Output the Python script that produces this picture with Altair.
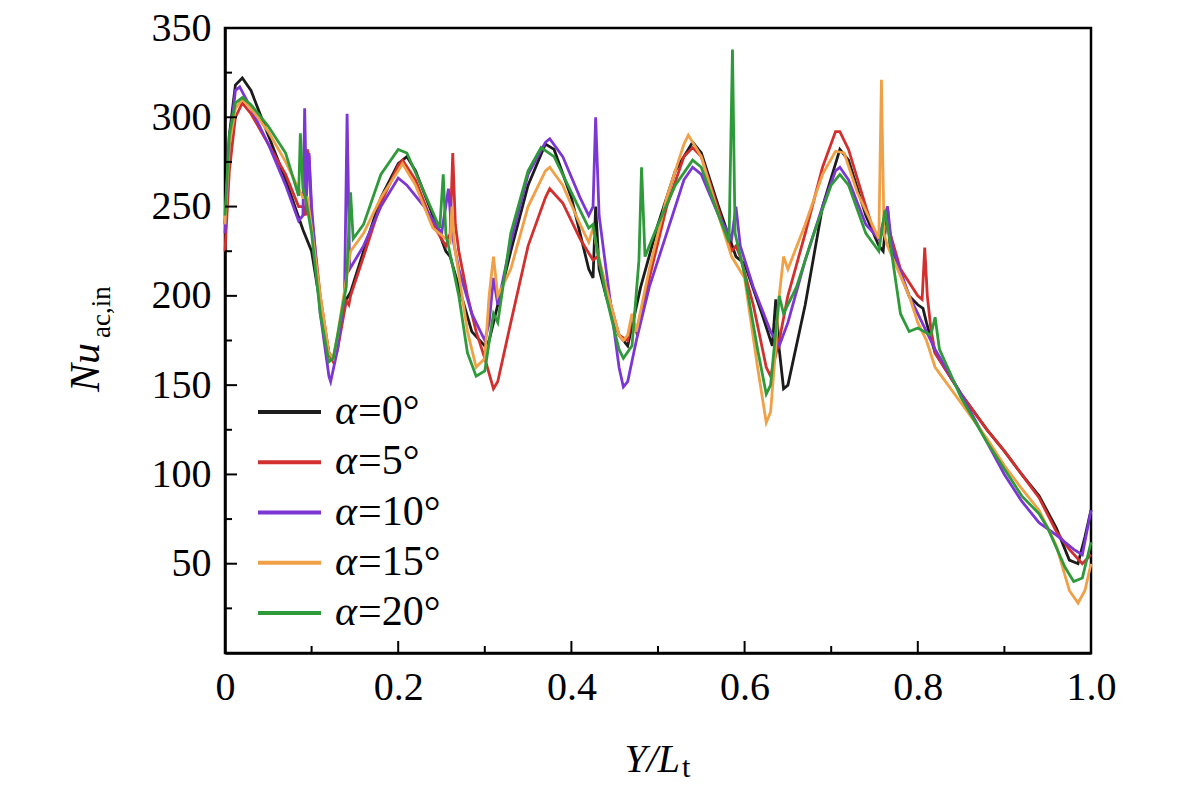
import altair as alt
import pandas as pd

# Y/L_t positions and Nu_ac,in values, one pair per angle
x_a0 = [0, 0.005, 0.012, 0.02, 0.03, 0.05, 0.07, 0.09, 0.1, 0.11, 0.12, 0.125, 0.13, 0.14, 0.145,
        0.16, 0.18, 0.2, 0.21, 0.22, 0.24, 0.255, 0.26, 0.27, 0.285, 0.3, 0.305, 0.31, 0.33, 0.35,
        0.37, 0.38, 0.4, 0.42, 0.425, 0.428, 0.432, 0.44, 0.455, 0.465, 0.48, 0.5, 0.52, 0.54, 0.55,
        0.57, 0.59, 0.6, 0.62, 0.632, 0.636, 0.64, 0.645, 0.65, 0.67, 0.69, 0.71, 0.72, 0.74, 0.755,
        0.76, 0.765, 0.768, 0.775, 0.79, 0.8, 0.806, 0.81, 0.82, 0.85, 0.88, 0.9, 0.92, 0.94, 0.96,
        0.975, 0.985, 0.993, 1.0]
nu_a0 = [240, 290, 318, 322, 315, 290, 265, 237, 225, 195, 168, 165, 175, 198, 202,
         225, 255, 274, 278, 270, 245, 225, 222, 205, 180, 172, 175, 185, 225, 262,
         285, 282, 255, 215, 210, 250, 215, 200, 178, 172, 205, 240, 270, 286, 280,
         250, 222, 218, 190, 172, 198, 170, 148, 150, 195, 250, 282, 276, 245, 228,
         225, 250, 228, 218, 200, 195, 193, 185, 168, 145, 125, 113, 100, 88, 70,
         52, 50, 65, 80]

x_a5 = [0, 0.005, 0.012, 0.02, 0.03, 0.05, 0.07, 0.085, 0.09, 0.093, 0.095, 0.097, 0.1, 0.11, 0.12,
        0.125, 0.13, 0.14, 0.143, 0.145, 0.16, 0.18, 0.2, 0.205, 0.22, 0.24, 0.255, 0.26, 0.263, 0.266,
        0.27, 0.28, 0.29, 0.3, 0.31, 0.315, 0.33, 0.35, 0.37, 0.375, 0.39, 0.41, 0.425, 0.43, 0.44,
        0.455, 0.465, 0.47, 0.475, 0.49, 0.51, 0.53, 0.54, 0.55, 0.57, 0.585, 0.59, 0.595, 0.61, 0.625,
        0.63, 0.635, 0.64, 0.65, 0.67, 0.69, 0.705, 0.71, 0.72, 0.74, 0.75, 0.755, 0.765, 0.78, 0.8,
        0.805, 0.808, 0.811, 0.815, 0.82, 0.85, 0.88, 0.9, 0.92, 0.94, 0.96, 0.975, 0.99, 1.0]
nu_a5 = [225, 270, 300, 308, 302, 285, 268, 250, 250, 245, 282, 278, 245, 200, 168,
         163, 170, 197, 195, 200, 222, 252, 273, 276, 265, 240, 228, 235, 280, 240,
         225, 200, 180, 165, 148, 152, 185, 228, 255, 260, 252, 232, 220, 222, 205,
         178, 175, 188, 180, 210, 250, 278, 283, 278, 248, 225, 228, 222, 195, 160,
         155, 165, 175, 200, 235, 272, 292, 292, 282, 250, 235, 232, 240, 215, 200,
         198, 227, 200, 182, 168, 145, 125, 113, 100, 87, 68, 58, 50, 55]

x_a10 = [0, 0.005, 0.012, 0.017, 0.03, 0.05, 0.07, 0.085, 0.09, 0.092, 0.094, 0.097, 0.1, 0.11, 0.12,
         0.122, 0.13, 0.138, 0.141, 0.144, 0.16, 0.18, 0.2, 0.21, 0.23, 0.25, 0.258, 0.262, 0.27, 0.285,
         0.3, 0.305, 0.31, 0.315, 0.33, 0.35, 0.37, 0.375, 0.39, 0.41, 0.42, 0.425, 0.428, 0.432, 0.44,
         0.455, 0.46, 0.465, 0.475, 0.49, 0.51, 0.53, 0.54, 0.55, 0.57, 0.585, 0.59, 0.595, 0.61, 0.63,
         0.64, 0.65, 0.67, 0.69, 0.705, 0.71, 0.72, 0.74, 0.755, 0.765, 0.77, 0.79, 0.8, 0.81, 0.82,
         0.85, 0.88, 0.9, 0.92, 0.94, 0.96, 0.98, 0.99, 1.0]
nu_a10 = [235, 285, 315, 317, 305, 285, 262, 242, 245, 305, 255, 280, 250, 190, 155,
          152, 170, 200, 302, 215, 228, 250, 266, 262, 250, 235, 260, 235, 215, 190,
          175, 185, 210, 195, 230, 268, 286, 288, 278, 255, 245, 250, 300, 245, 215,
          160, 149, 152, 175, 205, 235, 265, 272, 268, 245, 232, 250, 228, 205, 180,
          172, 185, 220, 250, 270, 272, 265, 240, 232, 250, 228, 200, 190, 180, 170,
          145, 118, 100, 85, 73, 66, 58, 55, 80]

x_a15 = [0, 0.005, 0.012, 0.02, 0.03, 0.05, 0.07, 0.09, 0.095, 0.098, 0.11, 0.12, 0.125, 0.13, 0.145,
         0.16, 0.18, 0.2, 0.205, 0.22, 0.24, 0.26, 0.262, 0.265, 0.28, 0.29, 0.3, 0.305, 0.31, 0.315,
         0.33, 0.35, 0.37, 0.375, 0.39, 0.41, 0.42, 0.425, 0.43, 0.44, 0.455, 0.46, 0.465, 0.47, 0.475,
         0.49, 0.51, 0.53, 0.535, 0.55, 0.57, 0.585, 0.6, 0.615, 0.625, 0.63, 0.635, 0.64, 0.645, 0.65,
         0.67, 0.69, 0.705, 0.715, 0.73, 0.755, 0.758, 0.761, 0.765, 0.79, 0.8, 0.81, 0.82, 0.85, 0.88,
         0.9, 0.92, 0.94, 0.96, 0.975, 0.985, 0.993, 1.0]
nu_a15 = [240, 285, 305, 310, 305, 292, 275, 255, 255, 245, 200, 168, 165, 178, 225,
          235, 255, 270, 274, 262, 238, 230, 250, 228, 180, 160, 165, 200, 222, 200,
          215, 250, 270, 272, 262, 240, 230, 238, 225, 205, 178, 175, 178, 190, 180,
          215, 255, 285, 290, 278, 245, 222, 210, 160, 129, 135, 165, 200, 222, 215,
          240, 268, 281, 280, 258, 232, 321, 235, 228, 200, 185, 175, 160, 140, 120,
          105, 92, 80, 60, 35, 28, 35, 50]

x_a20 = [0, 0.005, 0.012, 0.02, 0.03, 0.05, 0.07, 0.085, 0.087, 0.09, 0.093, 0.1, 0.11, 0.12, 0.125,
         0.13, 0.14, 0.145, 0.148, 0.16, 0.18, 0.2, 0.21, 0.23, 0.248, 0.252, 0.255, 0.27, 0.28, 0.29,
         0.3, 0.31, 0.315, 0.33, 0.35, 0.365, 0.38, 0.4, 0.42, 0.425, 0.43, 0.44, 0.455, 0.46, 0.47,
         0.478, 0.481, 0.485, 0.5, 0.52, 0.54, 0.55, 0.57, 0.582, 0.586, 0.589, 0.6, 0.615, 0.625, 0.63,
         0.64, 0.645, 0.66, 0.68, 0.7, 0.71, 0.72, 0.74, 0.755, 0.762, 0.768, 0.78, 0.79, 0.8, 0.815,
         0.82, 0.825, 0.85, 0.88, 0.9, 0.92, 0.94, 0.95, 0.97, 0.98, 0.99, 1.0]
nu_a20 = [245, 290, 308, 311, 307, 295, 280, 256, 291, 260, 255, 235, 190, 163, 165,
          178, 205, 258, 232, 240, 268, 282, 280, 258, 238, 268, 235, 200, 168, 155,
          158, 190, 185, 235, 270, 283, 278, 258, 238, 240, 225, 200, 170, 165, 172,
          220, 272, 222, 240, 262, 276, 272, 245, 230, 338, 235, 212, 170, 145, 150,
          200, 190, 205, 235, 262, 268, 262, 235, 225, 248, 230, 190, 180, 182, 178,
          188, 170, 143, 118, 103, 88, 78, 70, 48, 40, 42, 62]

labels = ["α=0°", "α=5°", "α=10°", "α=15°", "α=20°"]
colors = ["#1c1c1c", "#d2302f", "#7b36d4", "#f0a046", "#2f9a3a"]

x_labels = [0, 0.2, 0.4, 0.6, 0.8, 1.0]
y_labels = [50, 100, 150, 200, 250, 300, 350]
x_major = [0.2, 0.4, 0.6, 0.8]
x_minor = [0.1, 0.3, 0.5, 0.7, 0.9]
y_major = [50, 100, 150, 200, 250, 300]
y_minor = [25, 75, 125, 175, 225, 275, 325]

W, H = 866, 625
FONT = "Liberation Serif"

frames = []
for lab, xs_, ys_ in zip(labels, [x_a0, x_a5, x_a10, x_a15, x_a20],
                         [nu_a0, nu_a5, nu_a10, nu_a15, nu_a20]):
    frames.append(pd.DataFrame({"x": xs_, "nu": ys_, "alpha": lab}))
df = pd.concat(frames, ignore_index=True)

xscale = alt.Scale(domain=[0, 1], nice=False, zero=False)
yscale = alt.Scale(domain=[0, 350], nice=False)
color = alt.Color("alpha:N", scale=alt.Scale(domain=labels, range=colors), legend=None)

axis_common = dict(title=None, ticks=False, tickSize=0, grid=False, labelFont=FONT,
                   labelFontSize=40, labelColor="black", domainColor="black",
                   domainWidth=2.5, labelOverlap=False)

lines = alt.Chart(df).mark_line(strokeWidth=2.8).encode(
    x=alt.X("x:Q", scale=xscale,
            axis=alt.Axis(values=x_labels, labelPadding=14, labelFlush=False,
                          labelExpr="datum.value == 0 ? '0' : format(datum.value, '.1f')",
                          **axis_common)),
    y=alt.Y("nu:Q", scale=yscale,
            axis=alt.Axis(values=y_labels, labelPadding=14, **axis_common)),
    color=color,
)

# inward ticks
def xticks(vals, length):
    return alt.Chart(pd.DataFrame({"v": vals})).mark_rule(color="black", strokeWidth=2).encode(
        x=alt.X("v:Q", scale=xscale, axis=None),
        y=alt.value(H), y2=alt.value(H - length))

def yticks(vals, length):
    return alt.Chart(pd.DataFrame({"v": vals})).mark_rule(color="black", strokeWidth=2).encode(
        y=alt.Y("v:Q", scale=yscale, axis=None),
        x=alt.value(0), x2=alt.value(length))

# legend drawn by hand so the alpha can be italic
leg = pd.DataFrame({"alpha": labels, "rest": [s[1:] for s in labels]})
leg_y = alt.Y("alpha:N", scale=alt.Scale(type="point", domain=labels, range=[384, 585], padding=0),
              axis=None)
leg_lines = alt.Chart(leg).mark_rule(strokeWidth=4).encode(
    y=leg_y, x=alt.value(33), x2=alt.value(96), color=color)
leg_a = alt.Chart(leg).mark_text(font=FONT, fontSize=42, fontStyle="italic", align="left",
                                 baseline="alphabetic", dy=12, color="black").encode(
    y=leg_y, x=alt.value(110), text=alt.value("α"))
leg_rest = alt.Chart(leg).mark_text(font=FONT, fontSize=42, align="left",
                                    baseline="alphabetic", dy=12, color="black").encode(
    y=leg_y, x=alt.value(133), text="rest:N")

# axis titles with subscripts
def label(txt, x, y, size, italic=False, angle=0, align="left"):
    kw = dict(font=FONT, fontSize=size, align=align, baseline="alphabetic", color="black")
    if italic:
        kw["fontStyle"] = "italic"
    if angle:
        kw["angle"] = angle
    return alt.Chart(pd.DataFrame({"t": [txt]})).mark_text(**kw).encode(
        x=alt.value(x), y=alt.value(y), text="t:N")

titles = [
    label("Y/L", 455, 744, 40, italic=True, align="right"),
    label("t", 457, 749, 30),
    label("Nu", -126, 364, 42, italic=True, angle=270),
    label("ac,in", -115, 310, 27, angle=270),
]

chart = alt.layer(
    lines,
    xticks(x_major, 12), xticks(x_minor, 7),
    yticks(y_major, 12), yticks(y_minor, 7),
    leg_lines, leg_a, leg_rest,
    *titles,
).resolve_scale(
    x="independent", y="independent"
).properties(
    width=W, height=H,
    autosize=alt.AutoSizeParams(type="none"),
    padding={"left": 217, "top": 20, "right": 60, "bottom": 130},
).configure_view(
    stroke="black", strokeWidth=2.5
)

chart.save("out.html", embed_options={"renderer": "svg", "actions": False})
